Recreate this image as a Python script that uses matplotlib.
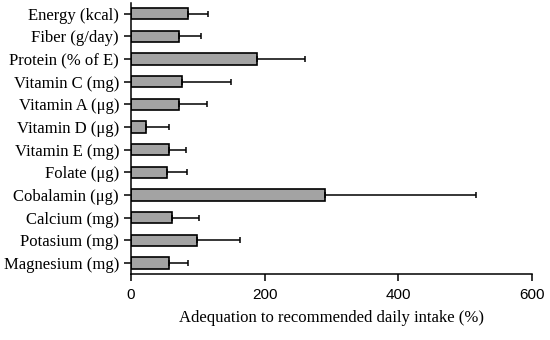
import numpy as np
import matplotlib.pyplot as plt

# Données
categories = ["Energy (kcal)", "Fiber (g/day)", "Protein (% of E)", "Vitamin C (mg)",
              "Vitamin A (μg)", "Vitamin D (μg)", "Vitamin E (mg)", "Folate (μg)",
              "Cobalamin (μg)", "Calcium (mg)", "Potasium (mg)", "Magnesium (mg)"]
moyennes = [85, 72, 188, 76, 72, 22, 57, 54, 290, 61, 99, 57]
ecarts = [30, 33, 73, 74, 42, 35, 25, 30, 227, 41, 64, 28]

fig = plt.figure(figsize=(5.5, 3.4), dpi=100)
ax = fig.add_axes([0.238, 0.194, 0.729, 0.796])

y = np.arange(len(categories))
ax.barh(y, moyennes, height=0.5, color="#a3a3a3", edgecolor="black", linewidth=1.2,
        xerr=[np.zeros(len(ecarts)), ecarts],
        error_kw=dict(ecolor="black", elinewidth=1.1, capsize=2, capthick=1.1))

ax.set_xlim(0, 600)
ax.set_ylim(11.48, -0.45)
ax.set_xticks([0, 200, 400, 600])
ax.set_yticks(y)
ax.set_yticklabels(categories, family=["Liberation Serif", "DejaVu Serif"], fontsize=12)
for lab in ax.get_xticklabels():
    lab.set_family("Liberation Sans")
    lab.set_fontsize(11)
ax.set_xlabel("Adequation to recommended daily intake (%)", family="Liberation Serif",
              fontsize=12, labelpad=6)

ax.spines["top"].set_visible(False)
ax.spines["right"].set_visible(False)
ax.spines["left"].set_linewidth(1.1)
ax.spines["bottom"].set_linewidth(1.1)
ax.tick_params(axis="both", length=5, width=1.1)
ax.tick_params(axis="x", pad=5)

fig.savefig("out.png", dpi=100)
